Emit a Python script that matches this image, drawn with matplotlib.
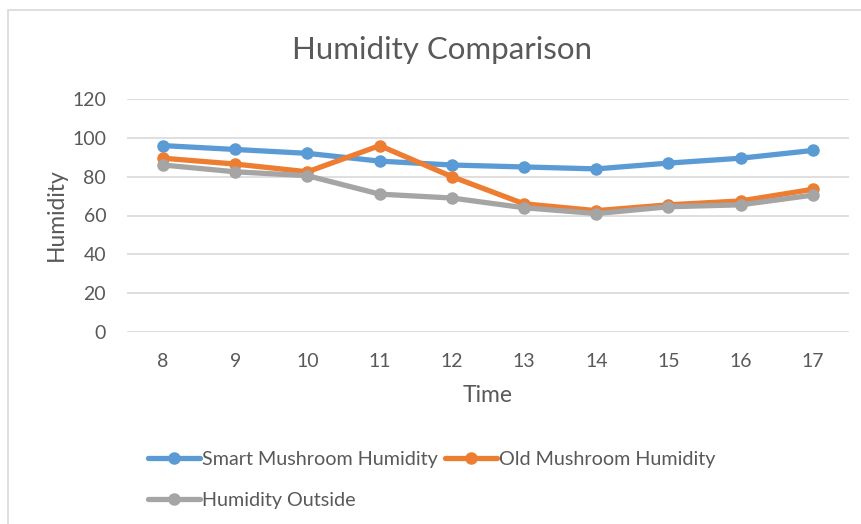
import matplotlib
matplotlib.use('Agg')
from matplotlib import pyplot as plt
from matplotlib.patches import Rectangle

plt.rcParams['font.family'] = ['Lato', 'DejaVu Sans']

hours = [8, 9, 10, 11, 12, 13, 14, 15, 16, 17]
smart_humidity = [96, 94, 92, 88, 86, 85, 84, 87, 89.5, 93.5]
old_humidity = [89.5, 86.5, 82.5, 96, 80, 66, 62.5, 65.5, 67.5, 73.5]
outside_humidity = [86, 82.5, 80.5, 71, 69, 64, 61, 64.5, 65.5, 70.5]
y_ticks = [0, 20, 40, 60, 80, 100, 120]

text_color = '#595959'
grid_color = '#d9d9d9'

fig = plt.figure(figsize=(8.62, 5.24), dpi=100)
# chart frame, cut off at right and bottom like the screenshot
fig.patches.append(Rectangle((8 / 862, -0.1), 1.2, 1 - 10 / 524 + 0.1, transform=fig.transFigure,
                             fill=False, edgecolor=grid_color, linewidth=1.2))

ax = fig.add_axes([127 / 862, 1 - 332 / 524, (849 - 127) / 862, (332 - 99) / 524])
x = list(range(len(hours)))

line_kw = dict(linewidth=3.8, marker='o', markersize=8, solid_capstyle='round', solid_joinstyle='round')
ax.plot(x, smart_humidity, color='#5b9bd5', label='Smart Mushroom Humidity', **line_kw)
ax.plot(x, outside_humidity, color='#a5a5a5', label='Humidity Outside', zorder=2.5, **line_kw)
ax.plot(x, old_humidity, color='#ed7d31', label='Old Mushroom Humidity', zorder=2.2, **line_kw)

ax.set_xlim(-0.5, len(hours) - 0.5)
ax.set_ylim(0, 120)
ax.set_xticks(x)
ax.set_xticklabels([str(h) for h in hours])
ax.set_yticks(y_ticks)
ax.grid(axis='y', color=grid_color, linewidth=1.2)
ax.set_axisbelow(True)
for s in ax.spines.values():
    s.set_visible(False)
ax.tick_params(length=0, labelsize=14, labelcolor=text_color)
ax.tick_params(axis='x', pad=15)
ax.tick_params(axis='y', pad=15)

fig.text(442 / 862, 1 - 50 / 524, 'Humidity Comparison', ha='center', va='center', fontsize=22.5, color=text_color)
fig.text(56 / 862, 1 - 215 / 524, 'Humidity', ha='center', va='center', rotation=90, fontsize=16.5, color=text_color)
fig.text(488 / 862, 1 - 395 / 524, 'Time', ha='center', va='center', fontsize=16.5, color=text_color)

handles, labels = ax.get_legend_handles_labels()
leg = fig.legend(handles, labels, ncol=2, loc='upper left', bbox_to_anchor=(148 / 862, 1 - 451 / 524),
                 frameon=False, fontsize=14.2, handlelength=2.65, handletextpad=0.1, columnspacing=0.35,
                 labelspacing=1.2, labelcolor=text_color, borderaxespad=0, borderpad=0)
for h in leg.legend_handles:
    h.set_markersize(8)

fig.savefig('out.png', dpi=100)
